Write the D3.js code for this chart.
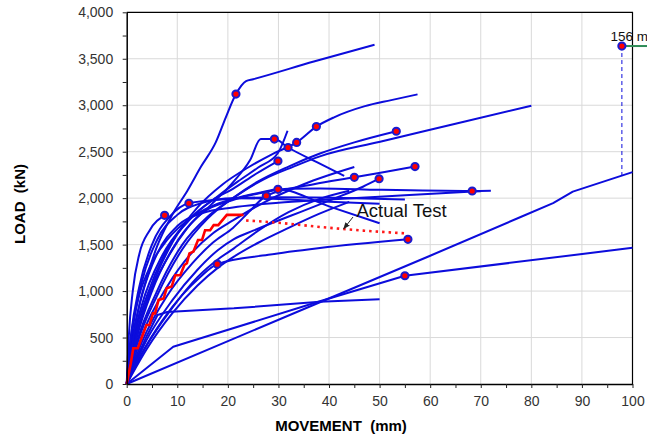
<!DOCTYPE html>
<html>
<head>
<meta charset="utf-8">
<script src="https://cdn.jsdelivr.net/npm/d3@7"></script>
<style>
  body { margin: 0; background: #fff; }
  svg { display: block; font-family: Arial, "Liberation Sans", sans-serif; }
</style>
</head>
<body>
<div id="chart"></div>
<script>
// load test curves, each point is [movement mm, load kN]
const curveA = [[0,0],[1,380],[2,720],[4,1150],[6,1480],[9,1820],[12,2080],[14.7,2340],[17.6,2600],[19.6,2870],[21.6,3120],[23.6,3260],[25,3280],[37,3470],[49,3650]];
const curveB = [[0,0],[2,520],[5,1050],[9,1520],[14,1900],[19,2150],[24,2330],[29,2480],[33.6,2600],[37.5,2770],[41,2870],[47.1,2990],[52.3,3055],[57.5,3117]];
const curveC = [[0,0],[2,450],[6,1000],[11,1500],[16,1800],[21,2000],[27,2200],[33,2340],[38.2,2450],[50.1,2607],[65,2800],[80,2995]];
const curveD = [[0,0],[2,420],[6,950],[11,1450],[16,1780],[21,2000],[26,2180],[32,2340],[38.2,2480],[45,2600],[53.3,2720]];
const curveP = [[0,0],[1.5,450],[4,900],[8,1350],[12,1680],[16.5,1920],[21,2170],[24.4,2410],[26.5,2636],[29.2,2636],[31.9,2545],[37.5,2390],[43,2240]];
const curveR = [[0,0],[1.5,500],[4,950],[8,1450],[13,1800],[18,2020],[22,2180],[26,2330],[29.9,2486],[31.8,2725]];
const curveS = [[0,0],[1,400],[3,850],[7,1380],[12,1750],[17,1980],[21,2100],[25.5,2260],[29.9,2400]];
const curveE = [[0,0],[3,520],[8,1050],[13,1420],[17,1620],[21,1760],[27,1950],[35,2150],[45,2335]];
const curveF = [[0,0],[3,450],[8,950],[13,1300],[17,1520],[21,1680],[24.5,1870],[27.6,2026],[37,2150],[45,2224],[51,2282],[57,2340]];
const curveG = [[0,0],[4,480],[9,900],[14,1230],[18,1440],[21.2,1560],[25,1650],[30,1760],[34.3,1850],[40.8,1990],[46.7,2123],[49.9,2209]];
const curveH = [[0,0],[0.6,400],[2,850],[4.5,1250],[8,1550],[13,1800],[18,1940],[23,2020],[26.5,2060],[29.9,2095],[40,1912],[50,1730]];
const curveM = [[0,0],[0.4,500],[1.2,1000],[2.5,1400],[4.5,1650],[7.5,1815]];
const curveN = [[0,0],[0.8,500],[2.5,1050],[5,1500],[8.5,1800],[12.3,1945],[20,1990],[30,2010],[45,2000],[55,1985]];
const curveW = [[0,0],[1.2,600],[3,1100],[6,1550],[10,1820],[15,1950],[21,2000],[30,1990],[40,1960],[50,1940]];
const curveX = [[0,0],[1,450],[3,950],[6,1400],[10,1700],[15,1840],[21,1900],[30,1950],[38.2,1980],[55,2030],[70,2075]];
const curveY = [[0,0],[2,500],[5,1000],[9,1450],[14,1800],[21,1980],[27,2060],[32,2100],[38.2,2105],[50,2090],[68.3,2077],[72,2080]];
const curveU = [[0,0],[4,420],[9,820],[14,1150],[18,1340],[21.2,1460],[26,1650],[32,1850],[38,1990],[44,2080]];
const curveV = [[0,0],[4,380],[9,760],[14,1060],[18,1250],[21.2,1370],[26,1520],[32,1680],[38,1830],[44,1960]];
const curveI = [[0,0],[3,330],[7,680],[11,960],[14.5,1150],[17.9,1290],[28,1390],[38.2,1463],[55.6,1557]];
const curveK = [[0,0],[2,280],[4,520],[6.1,742],[8,775],[21.2,814],[38.2,885],[50,911]];
const curveJ = [[0,0],[9.2,400],[38.2,890],[55,1165],[100,1465]];
const curveL = [[0,0],[38.2,880],[60,1380],[78,1800],[84.3,1947],[88.2,2070],[100,2280]];

const blueCurves = [curveL, curveJ, curveK, curveI, curveV, curveU, curveG, curveF, curveE,
  curveY, curveX, curveW, curveN, curveM, curveH, curveS, curveR, curveP, curveD, curveC, curveB, curveA];

// these ones have sharp corners, drawn as straight segments
const straightCurves = [curveJ, curveL, curveK];

// failure points shown with markers
const markerPoints = [[21.6,3120],[29.2,2636],[31.9,2545],[33.6,2600],[37.5,2770],[53.3,2720],
  [29.9,2400],[27.6,2026],[29.9,2095],[45,2224],[49.9,2209],[57,2340],[68.3,2077],
  [7.5,1815],[12.3,1945],[17.9,1290],[55.6,1557],[55,1165]];

// the actual test (stepped) and its extrapolation
const actualTest = [[0,0],[0.8,220],[1.3,385],[2.2,385],[3.9,635],[4.5,635],[5.2,760],[5.6,760],
  [6.3,905],[7.3,920],[7.9,1030],[8.9,1050],[9.6,1170],[10.6,1170],[11.4,1280],[11.9,1300],
  [12.4,1405],[13.2,1425],[14.1,1550],[14.9,1550],[15.5,1655],[16.5,1655],[17.2,1710],[18.1,1710],
  [19.8,1820],[23.1,1820]];
const actualTestDotted = [[23.6,1760],[30,1735],[38.2,1690],[47,1650],[55.6,1620]];

// off-scale point, its true movement written next to it
const farPoint = [97.9, 3637];
const farPointBase = [97.9, 2243];
const farPointLabel = '156 mm';

const xTickValues = [0,5,10,15,20,25,30,35,40,45,50,55,60,65,70,75,80,85,90,95,100];
const xGridValues = [10,20,30,40,50,60,70,80,90];
const yTickValues = [0,250,500,750,1000,1250,1500,1750,2000,2250,2500,2750,3000,3250,3500,3750,4000];
const yGridValues = [500,1000,1500,2000,2500,3000,3500];

const width = 647,
      height = 439,
      margin = { top: 12.3, right: 14.5, bottom: 55, left: 126.7 };

const blue = '#0c0cdc';

let x, y, line, smoothLine, $svg, $plot;

function constructChart() {
  x = d3.scaleLinear().domain([0, 100]).range([margin.left, width - margin.right]);
  y = d3.scaleLinear().domain([0, 4000]).range([height - margin.bottom, margin.top]);

  line = d3.line().x(d => x(d[0])).y(d => y(d[1]));
  smoothLine = d3.line().x(d => x(d[0])).y(d => y(d[1])).curve(d3.curveMonotoneX);

  $svg = d3.select('#chart').append('svg')
    .attr('width', width)
    .attr('height', height);

  // grid
  $svg.append('g').selectAll('line')
    .data(xGridValues)
    .join('line')
    .attr('x1', d => x(d)).attr('x2', d => x(d))
    .attr('y1', y(0)).attr('y2', y(4000))
    .attr('stroke', '#d9d9d9').attr('stroke-width', 1);

  $svg.append('g').selectAll('line')
    .data(yGridValues)
    .join('line')
    .attr('x1', x(0)).attr('x2', x(100))
    .attr('y1', d => y(d)).attr('y2', d => y(d))
    .attr('stroke', '#d9d9d9').attr('stroke-width', 1);

  // frame, top and right
  $svg.append('path')
    .attr('d', `M${x(0)},${y(4000)}H${x(100)}V${y(0)}`)
    .attr('fill', 'none')
    .attr('stroke', '#000')
    .attr('stroke-width', 1.2);

  $plot = $svg.append('g');

  $plot.selectAll('path.curve')
    .data(blueCurves)
    .join('path')
    .classed('curve', true)
    .attr('d', d => straightCurves.includes(d) ? line(d) : smoothLine(d))
    .attr('fill', 'none')
    .attr('stroke', blue)
    .attr('stroke-width', 2)
    .attr('stroke-linejoin', 'round');

  // actual test
  $plot.append('path')
    .attr('d', line(actualTest))
    .attr('fill', 'none')
    .attr('stroke', '#ff0000')
    .attr('stroke-width', 2.6);

  $plot.append('path')
    .attr('d', smoothLine(actualTestDotted))
    .attr('fill', 'none')
    .attr('stroke', '#ff1a1a')
    .attr('stroke-width', 2.6)
    .attr('stroke-dasharray', '2.5,4');

  // off-scale point
  $svg.append('line')
    .attr('x1', x(farPoint[0])).attr('x2', x(farPointBase[0]))
    .attr('y1', y(farPoint[1])).attr('y2', y(farPointBase[1]))
    .attr('stroke', blue)
    .attr('stroke-width', 1)
    .attr('stroke-dasharray', '4,3');

  $svg.append('line')
    .attr('x1', x(farPoint[0])).attr('x2', width)
    .attr('y1', y(farPoint[1])).attr('y2', y(farPoint[1]))
    .attr('stroke', '#2e8b57')
    .attr('stroke-width', 2);

  // label runs past the right edge, as in the source chart
  $svg.append('text')
    .attr('x', x(farPoint[0]) - 11.5)
    .attr('y', y(farPoint[1]) - 5.5)
    .attr('font-size', 13.5)
    .attr('fill', '#111')
    .text(farPointLabel);

  $svg.append('g').selectAll('circle')
    .data(markerPoints.concat([farPoint]))
    .join('circle')
    .attr('cx', d => x(d[0]))
    .attr('cy', d => y(d[1]))
    .attr('r', 3.6)
    .attr('fill', '#ff0000')
    .attr('stroke', '#1a1ad0')
    .attr('stroke-width', 2);

  // annotation
  $svg.append('defs').append('marker')
    .attr('id', 'arrow')
    .attr('viewBox', '0 0 10 10')
    .attr('refX', 9).attr('refY', 5)
    .attr('markerWidth', 7).attr('markerHeight', 7)
    .attr('orient', 'auto')
    .append('path')
    .attr('d', 'M0,1L10,5L0,9Z')
    .attr('fill', '#222');

  $svg.append('line')
    .attr('x1', 353).attr('y1', 217)
    .attr('x2', x(42.9)).attr('y2', y(1670))
    .attr('stroke', '#222')
    .attr('stroke-width', 1)
    .attr('marker-end', 'url(#arrow)');

  $svg.append('text')
    .attr('x', 356.5)
    .attr('y', 216.7)
    .attr('font-size', 18.5)
    .attr('fill', '#111')
    .text('Actual Test');

  // axes
  const xAxis = d3.axisBottom(x)
    .tickValues(xTickValues)
    .tickSize(4)
    .tickSizeOuter(0)
    .tickPadding(8)
    .tickFormat(d => d % 10 === 0 ? d : '');

  const yAxis = d3.axisLeft(y)
    .tickValues(yTickValues)
    .tickSize(4)
    .tickSizeOuter(0)
    .tickPadding(9.5)
    .tickFormat(d => d % 500 === 0 ? d3.format(',')(d) : '');

  const $x = $svg.append('g')
    .attr('transform', `translate(0,${y(0)})`)
    .call(xAxis);
  const $y = $svg.append('g')
    .attr('transform', `translate(${x(0)},0)`)
    .call(yAxis);

  [$x, $y].forEach($a => {
    $a.select('.domain').attr('stroke', '#000').attr('stroke-width', 1.5);
    $a.selectAll('.tick line').attr('stroke', '#222');
    $a.selectAll('.tick text')
      .attr('font-size', 14)
      .attr('font-family', 'Arial, "Liberation Sans", sans-serif')
      .attr('fill', '#333');
  });

  $svg.append('text')
    .attr('x', 341)
    .attr('y', 431)
    .attr('text-anchor', 'middle')
    .attr('font-size', 15)
    .attr('font-weight', 'bold')
    .attr('fill', '#000')
    .attr('xml:space', 'preserve')
    .text('MOVEMENT  (mm)');

  $svg.append('text')
    .attr('transform', 'translate(25,204) rotate(-90)')
    .attr('text-anchor', 'middle')
    .attr('font-size', 15)
    .attr('font-weight', 'bold')
    .attr('fill', '#000')
    .attr('xml:space', 'preserve')
    .text('LOAD  (kN)');
}

constructChart();
</script>
</body>
</html>
